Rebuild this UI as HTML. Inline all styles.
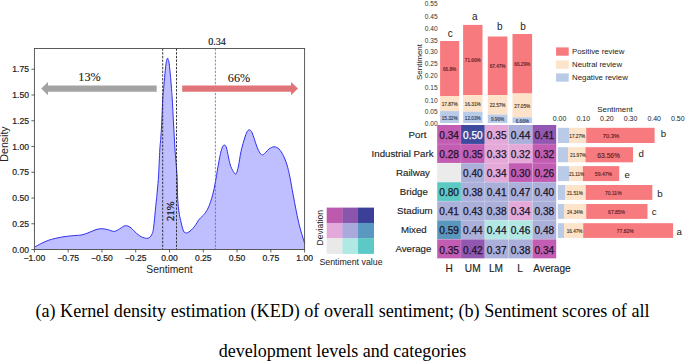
<!DOCTYPE html>
<html><head><meta charset="utf-8"><title>Figure</title>
<style>html,body{margin:0;padding:0;background:#fff;width:685px;height:362px;overflow:hidden}svg{display:block}</style>
</head><body>
<svg width="685" height="362" viewBox="0 0 685 362">
<rect width="685" height="362" fill="#fff"/>
<path d="M34.60,247.00 C35.77,246.38 39.33,244.40 41.60,243.30 C43.87,242.20 45.98,241.20 48.20,240.40 C50.42,239.60 52.68,239.05 54.90,238.50 C57.12,237.95 59.30,237.48 61.50,237.10 C63.70,236.72 65.88,236.47 68.10,236.20 C70.32,235.93 72.48,235.72 74.80,235.50 C77.12,235.28 79.63,235.40 82.00,234.90 C84.37,234.40 86.67,233.38 89.00,232.50 C91.33,231.62 93.85,230.23 96.00,229.60 C98.15,228.97 99.95,228.70 101.90,228.70 C103.85,228.70 105.67,229.15 107.70,229.60 C109.73,230.05 112.15,231.50 114.10,231.40 C116.05,231.30 117.83,229.85 119.40,229.00 C120.97,228.15 122.33,226.85 123.50,226.30 C124.67,225.75 125.48,225.65 126.40,225.70 C127.32,225.75 128.23,226.23 129.00,226.60 C129.77,226.97 130.17,227.20 131.00,227.90 C131.83,228.60 133.02,229.83 134.00,230.80 C134.98,231.77 135.93,232.85 136.90,233.70 C137.87,234.55 138.83,235.28 139.80,235.90 C140.77,236.52 141.53,236.98 142.70,237.40 C143.87,237.82 145.70,238.37 146.80,238.40 C147.90,238.43 148.62,238.00 149.30,237.60 C149.98,237.20 150.40,236.68 150.90,236.00 C151.40,235.32 151.92,234.47 152.30,233.50 C152.68,232.53 152.90,231.92 153.20,230.20 C153.50,228.48 153.80,225.90 154.10,223.20 C154.40,220.50 154.73,216.77 155.00,214.00 C155.27,211.23 155.43,209.22 155.70,206.60 C155.97,203.98 156.32,201.07 156.60,198.30 C156.88,195.53 157.07,193.88 157.40,190.00 C157.73,186.12 158.20,181.67 158.60,175.00 C159.00,168.33 159.43,156.17 159.80,150.00 C160.17,143.83 160.50,142.17 160.80,138.00 C161.10,133.83 161.28,131.33 161.60,125.00 C161.92,118.67 162.40,105.60 162.70,100.00 C163.00,94.40 163.08,95.13 163.40,91.40 C163.72,87.67 164.17,82.20 164.60,77.60 C165.03,73.00 165.53,67.02 166.00,63.80 C166.47,60.58 167.02,58.93 167.40,58.30 C167.78,57.67 168.00,59.08 168.30,60.00 C168.60,60.92 168.82,60.87 169.20,63.80 C169.58,66.73 170.18,73.00 170.60,77.60 C171.02,82.20 171.42,87.67 171.70,91.40 C171.98,95.13 171.98,94.40 172.30,100.00 C172.62,105.60 173.15,116.67 173.60,125.00 C174.05,133.33 174.43,141.67 175.00,150.00 C175.57,158.33 176.55,166.83 177.00,175.00 C177.45,183.17 177.37,192.83 177.70,199.00 C178.03,205.17 178.52,208.45 179.00,212.00 C179.48,215.55 179.85,217.13 180.60,220.30 C181.35,223.47 182.53,228.90 183.50,231.00 C184.47,233.10 185.52,232.73 186.40,232.90 C187.28,233.07 187.98,232.48 188.80,232.00 C189.62,231.52 190.35,230.92 191.30,230.00 C192.25,229.08 193.53,227.73 194.50,226.50 C195.47,225.27 196.35,223.77 197.10,222.60 C197.85,221.43 198.18,220.52 199.00,219.50 C199.82,218.48 201.03,217.50 202.00,216.50 C202.97,215.50 203.68,215.12 204.80,213.50 C205.92,211.88 207.40,209.87 208.70,206.80 C210.00,203.73 211.47,199.30 212.60,195.10 C213.73,190.90 214.67,185.95 215.50,181.60 C216.33,177.25 216.77,173.68 217.60,169.00 C218.43,164.32 219.68,157.17 220.50,153.50 C221.32,149.83 221.85,148.42 222.50,147.00 C223.15,145.58 223.73,144.83 224.40,145.00 C225.07,145.17 225.57,144.83 226.50,148.00 C227.43,151.17 228.87,160.08 230.00,164.00 C231.13,167.92 232.30,169.87 233.30,171.50 C234.30,173.13 235.13,174.72 236.00,173.80 C236.87,172.88 237.67,169.73 238.50,166.00 C239.33,162.27 239.92,156.23 241.00,151.40 C242.08,146.57 243.90,140.40 245.00,137.00 C246.10,133.60 246.80,132.17 247.60,131.00 C248.40,129.83 249.03,129.67 249.80,130.00 C250.57,130.33 251.12,130.50 252.20,133.00 C253.28,135.50 255.12,141.83 256.30,145.00 C257.48,148.17 258.30,150.35 259.30,152.00 C260.30,153.65 261.27,154.80 262.30,154.90 C263.33,155.00 264.38,153.58 265.50,152.60 C266.62,151.62 267.58,149.97 269.00,149.00 C270.42,148.03 272.33,146.80 274.00,146.80 C275.67,146.80 277.43,147.53 279.00,149.00 C280.57,150.47 282.07,152.93 283.40,155.60 C284.73,158.27 285.92,161.43 287.00,165.00 C288.08,168.57 288.90,172.17 289.90,177.00 C290.90,181.83 291.93,188.28 293.00,194.00 C294.07,199.72 295.22,205.97 296.30,211.30 C297.38,216.63 298.43,221.72 299.50,226.00 C300.57,230.28 301.85,234.10 302.70,237.00 C303.55,239.90 304.28,242.33 304.60,243.40 L304.6,249.5 L34.4,249.5 Z" fill="#bfbfff" stroke="none"/>
<path d="M34.60,247.00 C35.77,246.38 39.33,244.40 41.60,243.30 C43.87,242.20 45.98,241.20 48.20,240.40 C50.42,239.60 52.68,239.05 54.90,238.50 C57.12,237.95 59.30,237.48 61.50,237.10 C63.70,236.72 65.88,236.47 68.10,236.20 C70.32,235.93 72.48,235.72 74.80,235.50 C77.12,235.28 79.63,235.40 82.00,234.90 C84.37,234.40 86.67,233.38 89.00,232.50 C91.33,231.62 93.85,230.23 96.00,229.60 C98.15,228.97 99.95,228.70 101.90,228.70 C103.85,228.70 105.67,229.15 107.70,229.60 C109.73,230.05 112.15,231.50 114.10,231.40 C116.05,231.30 117.83,229.85 119.40,229.00 C120.97,228.15 122.33,226.85 123.50,226.30 C124.67,225.75 125.48,225.65 126.40,225.70 C127.32,225.75 128.23,226.23 129.00,226.60 C129.77,226.97 130.17,227.20 131.00,227.90 C131.83,228.60 133.02,229.83 134.00,230.80 C134.98,231.77 135.93,232.85 136.90,233.70 C137.87,234.55 138.83,235.28 139.80,235.90 C140.77,236.52 141.53,236.98 142.70,237.40 C143.87,237.82 145.70,238.37 146.80,238.40 C147.90,238.43 148.62,238.00 149.30,237.60 C149.98,237.20 150.40,236.68 150.90,236.00 C151.40,235.32 151.92,234.47 152.30,233.50 C152.68,232.53 152.90,231.92 153.20,230.20 C153.50,228.48 153.80,225.90 154.10,223.20 C154.40,220.50 154.73,216.77 155.00,214.00 C155.27,211.23 155.43,209.22 155.70,206.60 C155.97,203.98 156.32,201.07 156.60,198.30 C156.88,195.53 157.07,193.88 157.40,190.00 C157.73,186.12 158.20,181.67 158.60,175.00 C159.00,168.33 159.43,156.17 159.80,150.00 C160.17,143.83 160.50,142.17 160.80,138.00 C161.10,133.83 161.28,131.33 161.60,125.00 C161.92,118.67 162.40,105.60 162.70,100.00 C163.00,94.40 163.08,95.13 163.40,91.40 C163.72,87.67 164.17,82.20 164.60,77.60 C165.03,73.00 165.53,67.02 166.00,63.80 C166.47,60.58 167.02,58.93 167.40,58.30 C167.78,57.67 168.00,59.08 168.30,60.00 C168.60,60.92 168.82,60.87 169.20,63.80 C169.58,66.73 170.18,73.00 170.60,77.60 C171.02,82.20 171.42,87.67 171.70,91.40 C171.98,95.13 171.98,94.40 172.30,100.00 C172.62,105.60 173.15,116.67 173.60,125.00 C174.05,133.33 174.43,141.67 175.00,150.00 C175.57,158.33 176.55,166.83 177.00,175.00 C177.45,183.17 177.37,192.83 177.70,199.00 C178.03,205.17 178.52,208.45 179.00,212.00 C179.48,215.55 179.85,217.13 180.60,220.30 C181.35,223.47 182.53,228.90 183.50,231.00 C184.47,233.10 185.52,232.73 186.40,232.90 C187.28,233.07 187.98,232.48 188.80,232.00 C189.62,231.52 190.35,230.92 191.30,230.00 C192.25,229.08 193.53,227.73 194.50,226.50 C195.47,225.27 196.35,223.77 197.10,222.60 C197.85,221.43 198.18,220.52 199.00,219.50 C199.82,218.48 201.03,217.50 202.00,216.50 C202.97,215.50 203.68,215.12 204.80,213.50 C205.92,211.88 207.40,209.87 208.70,206.80 C210.00,203.73 211.47,199.30 212.60,195.10 C213.73,190.90 214.67,185.95 215.50,181.60 C216.33,177.25 216.77,173.68 217.60,169.00 C218.43,164.32 219.68,157.17 220.50,153.50 C221.32,149.83 221.85,148.42 222.50,147.00 C223.15,145.58 223.73,144.83 224.40,145.00 C225.07,145.17 225.57,144.83 226.50,148.00 C227.43,151.17 228.87,160.08 230.00,164.00 C231.13,167.92 232.30,169.87 233.30,171.50 C234.30,173.13 235.13,174.72 236.00,173.80 C236.87,172.88 237.67,169.73 238.50,166.00 C239.33,162.27 239.92,156.23 241.00,151.40 C242.08,146.57 243.90,140.40 245.00,137.00 C246.10,133.60 246.80,132.17 247.60,131.00 C248.40,129.83 249.03,129.67 249.80,130.00 C250.57,130.33 251.12,130.50 252.20,133.00 C253.28,135.50 255.12,141.83 256.30,145.00 C257.48,148.17 258.30,150.35 259.30,152.00 C260.30,153.65 261.27,154.80 262.30,154.90 C263.33,155.00 264.38,153.58 265.50,152.60 C266.62,151.62 267.58,149.97 269.00,149.00 C270.42,148.03 272.33,146.80 274.00,146.80 C275.67,146.80 277.43,147.53 279.00,149.00 C280.57,150.47 282.07,152.93 283.40,155.60 C284.73,158.27 285.92,161.43 287.00,165.00 C288.08,168.57 288.90,172.17 289.90,177.00 C290.90,181.83 291.93,188.28 293.00,194.00 C294.07,199.72 295.22,205.97 296.30,211.30 C297.38,216.63 298.43,221.72 299.50,226.00 C300.57,230.28 301.85,234.10 302.70,237.00 C303.55,239.90 304.28,242.33 304.60,243.40" fill="none" stroke="#3030f0" stroke-width="1.0"/>
<line x1="162.7" y1="48.5" x2="162.7" y2="249.5" stroke="#222" stroke-width="0.9" stroke-dasharray="2.3,1.4"/>
<line x1="176.5" y1="48.5" x2="176.5" y2="249.5" stroke="#222" stroke-width="0.9" stroke-dasharray="2.3,1.4"/>
<line x1="215.4" y1="48.5" x2="215.4" y2="249.5" stroke="#4b4bf5" stroke-width="0.7" stroke-dasharray="2.3,1.4"/>
<rect x="34.4" y="48.5" width="270.20000000000005" height="201.0" fill="none" stroke="#4a4a4a" stroke-width="0.9"/>
<line x1="31.4" y1="249.50" x2="34.4" y2="249.50" stroke="#3a3a3a" stroke-width="0.8"/>
<text x="29" y="252.70" font-family="Liberation Sans" font-size="8.6" text-anchor="end" fill="#222" font-weight="normal" stroke="#222" stroke-width="0.2">0.00</text>
<line x1="31.4" y1="223.75" x2="34.4" y2="223.75" stroke="#3a3a3a" stroke-width="0.8"/>
<text x="29" y="226.95" font-family="Liberation Sans" font-size="8.6" text-anchor="end" fill="#222" font-weight="normal" stroke="#222" stroke-width="0.2">0.25</text>
<line x1="31.4" y1="198.00" x2="34.4" y2="198.00" stroke="#3a3a3a" stroke-width="0.8"/>
<text x="29" y="201.20" font-family="Liberation Sans" font-size="8.6" text-anchor="end" fill="#222" font-weight="normal" stroke="#222" stroke-width="0.2">0.50</text>
<line x1="31.4" y1="172.25" x2="34.4" y2="172.25" stroke="#3a3a3a" stroke-width="0.8"/>
<text x="29" y="175.45" font-family="Liberation Sans" font-size="8.6" text-anchor="end" fill="#222" font-weight="normal" stroke="#222" stroke-width="0.2">0.75</text>
<line x1="31.4" y1="146.50" x2="34.4" y2="146.50" stroke="#3a3a3a" stroke-width="0.8"/>
<text x="29" y="149.70" font-family="Liberation Sans" font-size="8.6" text-anchor="end" fill="#222" font-weight="normal" stroke="#222" stroke-width="0.2">1.00</text>
<line x1="31.4" y1="120.75" x2="34.4" y2="120.75" stroke="#3a3a3a" stroke-width="0.8"/>
<text x="29" y="123.95" font-family="Liberation Sans" font-size="8.6" text-anchor="end" fill="#222" font-weight="normal" stroke="#222" stroke-width="0.2">1.25</text>
<line x1="31.4" y1="95.00" x2="34.4" y2="95.00" stroke="#3a3a3a" stroke-width="0.8"/>
<text x="29" y="98.20" font-family="Liberation Sans" font-size="8.6" text-anchor="end" fill="#222" font-weight="normal" stroke="#222" stroke-width="0.2">1.50</text>
<line x1="31.4" y1="69.25" x2="34.4" y2="69.25" stroke="#3a3a3a" stroke-width="0.8"/>
<text x="29" y="72.45" font-family="Liberation Sans" font-size="8.6" text-anchor="end" fill="#222" font-weight="normal" stroke="#222" stroke-width="0.2">1.75</text>
<line x1="34.40" y1="249.5" x2="34.40" y2="252.5" stroke="#3a3a3a" stroke-width="0.8"/>
<text x="34.40" y="260.6" font-family="Liberation Sans" font-size="8.6" text-anchor="middle" fill="#222" font-weight="normal" stroke="#222" stroke-width="0.2">−1.00</text>
<line x1="68.18" y1="249.5" x2="68.18" y2="252.5" stroke="#3a3a3a" stroke-width="0.8"/>
<text x="68.18" y="260.6" font-family="Liberation Sans" font-size="8.6" text-anchor="middle" fill="#222" font-weight="normal" stroke="#222" stroke-width="0.2">−0.75</text>
<line x1="101.95" y1="249.5" x2="101.95" y2="252.5" stroke="#3a3a3a" stroke-width="0.8"/>
<text x="101.95" y="260.6" font-family="Liberation Sans" font-size="8.6" text-anchor="middle" fill="#222" font-weight="normal" stroke="#222" stroke-width="0.2">−0.50</text>
<line x1="135.73" y1="249.5" x2="135.73" y2="252.5" stroke="#3a3a3a" stroke-width="0.8"/>
<text x="135.73" y="260.6" font-family="Liberation Sans" font-size="8.6" text-anchor="middle" fill="#222" font-weight="normal" stroke="#222" stroke-width="0.2">−0.25</text>
<line x1="169.50" y1="249.5" x2="169.50" y2="252.5" stroke="#3a3a3a" stroke-width="0.8"/>
<text x="169.50" y="260.6" font-family="Liberation Sans" font-size="8.6" text-anchor="middle" fill="#222" font-weight="normal" stroke="#222" stroke-width="0.2">0.00</text>
<line x1="203.28" y1="249.5" x2="203.28" y2="252.5" stroke="#3a3a3a" stroke-width="0.8"/>
<text x="203.28" y="260.6" font-family="Liberation Sans" font-size="8.6" text-anchor="middle" fill="#222" font-weight="normal" stroke="#222" stroke-width="0.2">0.25</text>
<line x1="237.05" y1="249.5" x2="237.05" y2="252.5" stroke="#3a3a3a" stroke-width="0.8"/>
<text x="237.05" y="260.6" font-family="Liberation Sans" font-size="8.6" text-anchor="middle" fill="#222" font-weight="normal" stroke="#222" stroke-width="0.2">0.50</text>
<line x1="270.83" y1="249.5" x2="270.83" y2="252.5" stroke="#3a3a3a" stroke-width="0.8"/>
<text x="270.83" y="260.6" font-family="Liberation Sans" font-size="8.6" text-anchor="middle" fill="#222" font-weight="normal" stroke="#222" stroke-width="0.2">0.75</text>
<line x1="304.60" y1="249.5" x2="304.60" y2="252.5" stroke="#3a3a3a" stroke-width="0.8"/>
<text x="304.60" y="260.6" font-family="Liberation Sans" font-size="8.6" text-anchor="middle" fill="#222" font-weight="normal" stroke="#222" stroke-width="0.2">1.00</text>
<text x="169.5" y="273.3" font-family="Liberation Sans" font-size="10.3" text-anchor="middle" fill="#222" font-weight="normal" >Sentiment</text>
<text x="0" y="0" font-family="Liberation Sans" font-size="10.6" text-anchor="middle" fill="#222" font-weight="normal" transform="translate(8.2,144) rotate(-90)">Density</text>
<polygon points="156.7,85.6 48,85.6 48,82 41.2,88.6 48,95.2 48,91.8 156.7,91.8" fill="#a3a3a3"/>
<polygon points="182.2,85.4 291,85.4 291,82 298,88.6 291,95.2 291,91.8 182.2,91.8" fill="#e07478"/>
<text x="89.5" y="81.3" font-family="Liberation Serif" font-size="12.2" text-anchor="middle" fill="#111" font-weight="normal" stroke="#111" stroke-width="0.08">13%</text>
<text x="239" y="81.9" font-family="Liberation Serif" font-size="12.2" text-anchor="middle" fill="#111" font-weight="normal" stroke="#111" stroke-width="0.08">66%</text>
<text x="217.1" y="45.2" font-family="Liberation Serif" font-size="10.1" text-anchor="middle" fill="#111" font-weight="normal" stroke="#111" stroke-width="0.15">0.34</text>
<text x="0" y="0" font-family="Liberation Serif" font-size="10.6" text-anchor="middle" fill="#111" font-weight="normal" transform="translate(174.0,211.2) rotate(-90)" stroke="#111" stroke-width="0.25">21%</text>
<rect x="326.70" y="207.60" width="15.97" height="15.63" fill="#be5aae"/>
<rect x="342.37" y="207.60" width="15.97" height="15.63" fill="#8c55ac"/>
<rect x="358.03" y="207.60" width="15.97" height="15.63" fill="#3c3f98"/>
<rect x="326.70" y="222.93" width="15.97" height="15.63" fill="#e3a9da"/>
<rect x="342.37" y="222.93" width="15.97" height="15.63" fill="#a9a9dd"/>
<rect x="358.03" y="222.93" width="15.97" height="15.63" fill="#5a98c2"/>
<rect x="326.70" y="238.27" width="15.97" height="15.63" fill="#e9e9e9"/>
<rect x="342.37" y="238.27" width="15.97" height="15.63" fill="#b0e8e4"/>
<rect x="358.03" y="238.27" width="15.97" height="15.63" fill="#5cc9c6"/>
<text x="351" y="264.5" font-family="Liberation Sans" font-size="8.8" text-anchor="middle" fill="#222" font-weight="normal" >Sentiment value</text>
<text x="0" y="0" font-family="Liberation Sans" font-size="8.5" text-anchor="middle" fill="#222" font-weight="normal" transform="translate(322.6,227.7) rotate(-90)">Deviation</text>
<rect x="440.1" y="41.00" width="19.10" height="55.00" fill="#f77a7e"/>
<rect x="440.1" y="96.0" width="19.10" height="15.10" fill="#fde3c9"/>
<rect x="440.1" y="111.1" width="19.10" height="11.90" fill="#bacbe8"/>
<text x="449.65" y="71.00" font-family="Liberation Sans" font-size="4.7" text-anchor="middle" fill="#5a1a22" font-weight="normal" stroke="#5a1a22" stroke-width="0.12">66.8%</text>
<text x="449.65" y="105.90" font-family="Liberation Sans" font-size="4.7" text-anchor="middle" fill="#3e3222" font-weight="normal" stroke="#3e3222" stroke-width="0.12">17.87%</text>
<text x="449.65" y="119.60" font-family="Liberation Sans" font-size="4.7" text-anchor="middle" fill="#2a3656" font-weight="normal" stroke="#2a3656" stroke-width="0.12">15.32%</text>
<rect x="463.1" y="24.90" width="19.40" height="70.20" fill="#f77a7e"/>
<rect x="463.1" y="95.1" width="19.40" height="16.60" fill="#fde3c9"/>
<rect x="463.1" y="111.7" width="19.40" height="11.30" fill="#bacbe8"/>
<text x="472.80" y="62.10" font-family="Liberation Sans" font-size="4.7" text-anchor="middle" fill="#5a1a22" font-weight="normal" stroke="#5a1a22" stroke-width="0.12">71.66%</text>
<text x="472.80" y="105.90" font-family="Liberation Sans" font-size="4.7" text-anchor="middle" fill="#3e3222" font-weight="normal" stroke="#3e3222" stroke-width="0.12">16.31%</text>
<text x="472.80" y="119.60" font-family="Liberation Sans" font-size="4.7" text-anchor="middle" fill="#2a3656" font-weight="normal" stroke="#2a3656" stroke-width="0.12">12.03%</text>
<rect x="487.8" y="36.50" width="19.60" height="58.60" fill="#f77a7e"/>
<rect x="487.8" y="95.1" width="19.60" height="19.50" fill="#fde3c9"/>
<rect x="487.8" y="114.6" width="19.60" height="8.40" fill="#bacbe8"/>
<text x="497.60" y="67.80" font-family="Liberation Sans" font-size="4.7" text-anchor="middle" fill="#5a1a22" font-weight="normal" stroke="#5a1a22" stroke-width="0.12">67.47%</text>
<text x="497.60" y="107.20" font-family="Liberation Sans" font-size="4.7" text-anchor="middle" fill="#3e3222" font-weight="normal" stroke="#3e3222" stroke-width="0.12">22.57%</text>
<text x="497.60" y="121.10" font-family="Liberation Sans" font-size="4.7" text-anchor="middle" fill="#2a3656" font-weight="normal" stroke="#2a3656" stroke-width="0.12">9.96%</text>
<rect x="512.5" y="34.00" width="19.60" height="59.50" fill="#f77a7e"/>
<rect x="512.5" y="93.5" width="19.60" height="23.80" fill="#fde3c9"/>
<rect x="512.5" y="117.3" width="19.60" height="5.70" fill="#bacbe8"/>
<text x="522.30" y="66.20" font-family="Liberation Sans" font-size="4.7" text-anchor="middle" fill="#5a1a22" font-weight="normal" stroke="#5a1a22" stroke-width="0.12">66.29%</text>
<text x="522.30" y="107.60" font-family="Liberation Sans" font-size="4.7" text-anchor="middle" fill="#3e3222" font-weight="normal" stroke="#3e3222" stroke-width="0.12">27.05%</text>
<text x="522.30" y="122.50" font-family="Liberation Sans" font-size="4.7" text-anchor="middle" fill="#2a3656" font-weight="normal" stroke="#2a3656" stroke-width="0.12">6.66%</text>
<text x="447.8" y="36.9" font-family="Liberation Sans" font-size="10.0" text-anchor="start" fill="#1a1a1a" font-weight="normal" >c</text>
<text x="471.9" y="20.0" font-family="Liberation Sans" font-size="10.0" text-anchor="start" fill="#1a1a1a" font-weight="normal" >a</text>
<text x="497.0" y="29.9" font-family="Liberation Sans" font-size="10.0" text-anchor="start" fill="#1a1a1a" font-weight="normal" >b</text>
<text x="520.2" y="29.9" font-family="Liberation Sans" font-size="10.0" text-anchor="start" fill="#1a1a1a" font-weight="normal" >b</text>
<text x="437.7" y="6.40" font-family="Liberation Sans" font-size="6.6" text-anchor="end" fill="#333" font-weight="normal" >0.55</text>
<text x="437.7" y="18.90" font-family="Liberation Sans" font-size="6.6" text-anchor="end" fill="#333" font-weight="normal" >0.45</text>
<text x="437.7" y="30.80" font-family="Liberation Sans" font-size="6.6" text-anchor="end" fill="#333" font-weight="normal" >0.40</text>
<text x="437.7" y="42.80" font-family="Liberation Sans" font-size="6.6" text-anchor="end" fill="#333" font-weight="normal" >0.35</text>
<text x="437.7" y="54.10" font-family="Liberation Sans" font-size="6.6" text-anchor="end" fill="#333" font-weight="normal" >0.30</text>
<text x="437.7" y="66.30" font-family="Liberation Sans" font-size="6.6" text-anchor="end" fill="#333" font-weight="normal" >0.25</text>
<text x="437.7" y="77.60" font-family="Liberation Sans" font-size="6.6" text-anchor="end" fill="#333" font-weight="normal" >0.20</text>
<text x="437.7" y="89.90" font-family="Liberation Sans" font-size="6.6" text-anchor="end" fill="#333" font-weight="normal" >0.15</text>
<text x="437.7" y="102.50" font-family="Liberation Sans" font-size="6.6" text-anchor="end" fill="#333" font-weight="normal" >0.10</text>
<text x="437.7" y="113.80" font-family="Liberation Sans" font-size="6.6" text-anchor="end" fill="#333" font-weight="normal" >0.05</text>
<text x="437.7" y="125.60" font-family="Liberation Sans" font-size="6.6" text-anchor="end" fill="#333" font-weight="normal" >0.00</text>
<text x="0" y="0" font-family="Liberation Sans" font-size="8.0" text-anchor="middle" fill="#222" font-weight="normal" transform="translate(421.5,62) rotate(-90)">Sentiment</text>
<rect x="556.1" y="47.4" width="12.6" height="8.3" fill="#f77a7e"/>
<text x="572" y="53.80" font-family="Liberation Sans" font-size="7.85" text-anchor="start" fill="#222" font-weight="normal" >Positive review</text>
<rect x="556.1" y="60.4" width="12.6" height="8.3" fill="#fde3c9"/>
<text x="572" y="66.80" font-family="Liberation Sans" font-size="7.85" text-anchor="start" fill="#222" font-weight="normal" >Neutral review</text>
<rect x="556.1" y="73.4" width="12.6" height="8.3" fill="#bacbe8"/>
<text x="572" y="79.80" font-family="Liberation Sans" font-size="7.85" text-anchor="start" fill="#222" font-weight="normal" >Negative review</text>
<rect x="437.20" y="125.00" width="23.80" height="19.05" fill="#c35db3"/>
<text x="449.10" y="139.22" font-family="Liberation Sans" font-size="10.1" text-anchor="middle" fill="#1c1428" font-weight="normal" stroke="#1c1428" stroke-width="0.25">0.34</text>
<rect x="461.00" y="125.00" width="23.80" height="19.05" fill="#3d4a9e"/>
<text x="472.90" y="139.22" font-family="Liberation Sans" font-size="10.1" text-anchor="middle" fill="#ffffff" font-weight="normal" stroke="#ffffff" stroke-width="0.25">0.50</text>
<rect x="484.80" y="125.00" width="23.80" height="19.05" fill="#e4a9d8"/>
<text x="496.70" y="139.22" font-family="Liberation Sans" font-size="10.1" text-anchor="middle" fill="#1c1428" font-weight="normal" stroke="#1c1428" stroke-width="0.25">0.35</text>
<rect x="508.60" y="125.00" width="23.80" height="19.05" fill="#aab0da"/>
<text x="520.50" y="139.22" font-family="Liberation Sans" font-size="10.1" text-anchor="middle" fill="#1c1428" font-weight="normal" stroke="#1c1428" stroke-width="0.25">0.44</text>
<rect x="532.40" y="125.00" width="23.80" height="19.05" fill="#9258b1"/>
<text x="544.30" y="139.22" font-family="Liberation Sans" font-size="10.1" text-anchor="middle" fill="#1c1428" font-weight="normal" stroke="#1c1428" stroke-width="0.25">0.41</text>
<text x="408.6" y="138.03" font-family="Liberation Sans" font-size="9.7" text-anchor="start" fill="#1e1e1e" font-weight="normal" stroke="#1e1e1e" stroke-width="0.15">Port</text>
<rect x="437.20" y="144.05" width="23.80" height="19.05" fill="#c35db3"/>
<text x="449.10" y="158.28" font-family="Liberation Sans" font-size="10.1" text-anchor="middle" fill="#1c1428" font-weight="normal" stroke="#1c1428" stroke-width="0.25">0.28</text>
<rect x="461.00" y="144.05" width="23.80" height="19.05" fill="#c35db3"/>
<text x="472.90" y="158.28" font-family="Liberation Sans" font-size="10.1" text-anchor="middle" fill="#1c1428" font-weight="normal" stroke="#1c1428" stroke-width="0.25">0.35</text>
<rect x="484.80" y="144.05" width="23.80" height="19.05" fill="#e4a9d8"/>
<text x="496.70" y="158.28" font-family="Liberation Sans" font-size="10.1" text-anchor="middle" fill="#1c1428" font-weight="normal" stroke="#1c1428" stroke-width="0.25">0.33</text>
<rect x="508.60" y="144.05" width="23.80" height="19.05" fill="#e4a9d8"/>
<text x="520.50" y="158.28" font-family="Liberation Sans" font-size="10.1" text-anchor="middle" fill="#1c1428" font-weight="normal" stroke="#1c1428" stroke-width="0.25">0.32</text>
<rect x="532.40" y="144.05" width="23.80" height="19.05" fill="#c35db3"/>
<text x="544.30" y="158.28" font-family="Liberation Sans" font-size="10.1" text-anchor="middle" fill="#1c1428" font-weight="normal" stroke="#1c1428" stroke-width="0.25">0.32</text>
<text x="371.6" y="157.08" font-family="Liberation Sans" font-size="9.7" text-anchor="start" fill="#1e1e1e" font-weight="normal" stroke="#1e1e1e" stroke-width="0.15">Industrial Park</text>
<rect x="437.20" y="163.10" width="23.80" height="19.05" fill="#ebebeb"/>
<rect x="461.00" y="163.10" width="23.80" height="19.05" fill="#aab0da"/>
<text x="472.90" y="177.32" font-family="Liberation Sans" font-size="10.1" text-anchor="middle" fill="#1c1428" font-weight="normal" stroke="#1c1428" stroke-width="0.25">0.40</text>
<rect x="484.80" y="163.10" width="23.80" height="19.05" fill="#e4a9d8"/>
<text x="496.70" y="177.32" font-family="Liberation Sans" font-size="10.1" text-anchor="middle" fill="#1c1428" font-weight="normal" stroke="#1c1428" stroke-width="0.25">0.34</text>
<rect x="508.60" y="163.10" width="23.80" height="19.05" fill="#c35db3"/>
<text x="520.50" y="177.32" font-family="Liberation Sans" font-size="10.1" text-anchor="middle" fill="#1c1428" font-weight="normal" stroke="#1c1428" stroke-width="0.25">0.30</text>
<rect x="532.40" y="163.10" width="23.80" height="19.05" fill="#c35db3"/>
<text x="544.30" y="177.32" font-family="Liberation Sans" font-size="10.1" text-anchor="middle" fill="#1c1428" font-weight="normal" stroke="#1c1428" stroke-width="0.25">0.26</text>
<text x="396" y="176.12" font-family="Liberation Sans" font-size="9.7" text-anchor="start" fill="#1e1e1e" font-weight="normal" stroke="#1e1e1e" stroke-width="0.15">Railway</text>
<rect x="437.20" y="182.15" width="23.80" height="19.05" fill="#5ccac4"/>
<text x="449.10" y="196.38" font-family="Liberation Sans" font-size="10.1" text-anchor="middle" fill="#1c1428" font-weight="normal" stroke="#1c1428" stroke-width="0.25">0.80</text>
<rect x="461.00" y="182.15" width="23.80" height="19.05" fill="#aab0da"/>
<text x="472.90" y="196.38" font-family="Liberation Sans" font-size="10.1" text-anchor="middle" fill="#1c1428" font-weight="normal" stroke="#1c1428" stroke-width="0.25">0.38</text>
<rect x="484.80" y="182.15" width="23.80" height="19.05" fill="#aab0da"/>
<text x="496.70" y="196.38" font-family="Liberation Sans" font-size="10.1" text-anchor="middle" fill="#1c1428" font-weight="normal" stroke="#1c1428" stroke-width="0.25">0.41</text>
<rect x="508.60" y="182.15" width="23.80" height="19.05" fill="#aab0da"/>
<text x="520.50" y="196.38" font-family="Liberation Sans" font-size="10.1" text-anchor="middle" fill="#1c1428" font-weight="normal" stroke="#1c1428" stroke-width="0.25">0.47</text>
<rect x="532.40" y="182.15" width="23.80" height="19.05" fill="#aab0da"/>
<text x="544.30" y="196.38" font-family="Liberation Sans" font-size="10.1" text-anchor="middle" fill="#1c1428" font-weight="normal" stroke="#1c1428" stroke-width="0.25">0.40</text>
<text x="399.8" y="195.18" font-family="Liberation Sans" font-size="9.7" text-anchor="start" fill="#1e1e1e" font-weight="normal" stroke="#1e1e1e" stroke-width="0.15">Bridge</text>
<rect x="437.20" y="201.20" width="23.80" height="19.05" fill="#aab0da"/>
<text x="449.10" y="215.42" font-family="Liberation Sans" font-size="10.1" text-anchor="middle" fill="#1c1428" font-weight="normal" stroke="#1c1428" stroke-width="0.25">0.41</text>
<rect x="461.00" y="201.20" width="23.80" height="19.05" fill="#aab0da"/>
<text x="472.90" y="215.42" font-family="Liberation Sans" font-size="10.1" text-anchor="middle" fill="#1c1428" font-weight="normal" stroke="#1c1428" stroke-width="0.25">0.43</text>
<rect x="484.80" y="201.20" width="23.80" height="19.05" fill="#aab0da"/>
<text x="496.70" y="215.42" font-family="Liberation Sans" font-size="10.1" text-anchor="middle" fill="#1c1428" font-weight="normal" stroke="#1c1428" stroke-width="0.25">0.38</text>
<rect x="508.60" y="201.20" width="23.80" height="19.05" fill="#e4a9d8"/>
<text x="520.50" y="215.42" font-family="Liberation Sans" font-size="10.1" text-anchor="middle" fill="#1c1428" font-weight="normal" stroke="#1c1428" stroke-width="0.25">0.34</text>
<rect x="532.40" y="201.20" width="23.80" height="19.05" fill="#aab0da"/>
<text x="544.30" y="215.42" font-family="Liberation Sans" font-size="10.1" text-anchor="middle" fill="#1c1428" font-weight="normal" stroke="#1c1428" stroke-width="0.25">0.38</text>
<text x="397.1" y="214.22" font-family="Liberation Sans" font-size="9.7" text-anchor="start" fill="#1e1e1e" font-weight="normal" stroke="#1e1e1e" stroke-width="0.15">Stadium</text>
<rect x="437.20" y="220.25" width="23.80" height="19.05" fill="#5a97bf"/>
<text x="449.10" y="234.47" font-family="Liberation Sans" font-size="10.1" text-anchor="middle" fill="#1c1428" font-weight="normal" stroke="#1c1428" stroke-width="0.25">0.59</text>
<rect x="461.00" y="220.25" width="23.80" height="19.05" fill="#aab0da"/>
<text x="472.90" y="234.47" font-family="Liberation Sans" font-size="10.1" text-anchor="middle" fill="#1c1428" font-weight="normal" stroke="#1c1428" stroke-width="0.25">0.44</text>
<rect x="484.80" y="220.25" width="23.80" height="19.05" fill="#b2e8e4"/>
<text x="496.70" y="234.47" font-family="Liberation Sans" font-size="10.1" text-anchor="middle" fill="#1c1428" font-weight="normal" stroke="#1c1428" stroke-width="0.25">0.44</text>
<rect x="508.60" y="220.25" width="23.80" height="19.05" fill="#b2e8e4"/>
<text x="520.50" y="234.47" font-family="Liberation Sans" font-size="10.1" text-anchor="middle" fill="#1c1428" font-weight="normal" stroke="#1c1428" stroke-width="0.25">0.46</text>
<rect x="532.40" y="220.25" width="23.80" height="19.05" fill="#aab0da"/>
<text x="544.30" y="234.47" font-family="Liberation Sans" font-size="10.1" text-anchor="middle" fill="#1c1428" font-weight="normal" stroke="#1c1428" stroke-width="0.25">0.48</text>
<text x="400.9" y="233.28" font-family="Liberation Sans" font-size="9.7" text-anchor="start" fill="#1e1e1e" font-weight="normal" stroke="#1e1e1e" stroke-width="0.15">Mixed</text>
<rect x="437.20" y="239.30" width="23.80" height="19.05" fill="#c35db3"/>
<text x="449.10" y="253.53" font-family="Liberation Sans" font-size="10.1" text-anchor="middle" fill="#1c1428" font-weight="normal" stroke="#1c1428" stroke-width="0.25">0.35</text>
<rect x="461.00" y="239.30" width="23.80" height="19.05" fill="#9258b1"/>
<text x="472.90" y="253.53" font-family="Liberation Sans" font-size="10.1" text-anchor="middle" fill="#1c1428" font-weight="normal" stroke="#1c1428" stroke-width="0.25">0.42</text>
<rect x="484.80" y="239.30" width="23.80" height="19.05" fill="#aab0da"/>
<text x="496.70" y="253.53" font-family="Liberation Sans" font-size="10.1" text-anchor="middle" fill="#1c1428" font-weight="normal" stroke="#1c1428" stroke-width="0.25">0.37</text>
<rect x="508.60" y="239.30" width="23.80" height="19.05" fill="#aab0da"/>
<text x="520.50" y="253.53" font-family="Liberation Sans" font-size="10.1" text-anchor="middle" fill="#1c1428" font-weight="normal" stroke="#1c1428" stroke-width="0.25">0.38</text>
<rect x="532.40" y="239.30" width="23.80" height="19.05" fill="#c35db3"/>
<text x="544.30" y="253.53" font-family="Liberation Sans" font-size="10.1" text-anchor="middle" fill="#1c1428" font-weight="normal" stroke="#1c1428" stroke-width="0.25">0.34</text>
<text x="395.4" y="252.33" font-family="Liberation Sans" font-size="9.7" text-anchor="start" fill="#1e1e1e" font-weight="normal" stroke="#1e1e1e" stroke-width="0.15">Average</text>
<line x1="461.00" y1="125.0" x2="461.00" y2="258.35" stroke="#ffffff" stroke-opacity="0.25" stroke-width="0.6"/>
<line x1="484.80" y1="125.0" x2="484.80" y2="258.35" stroke="#ffffff" stroke-opacity="0.25" stroke-width="0.6"/>
<line x1="508.60" y1="125.0" x2="508.60" y2="258.35" stroke="#ffffff" stroke-opacity="0.25" stroke-width="0.6"/>
<line x1="532.40" y1="125.0" x2="532.40" y2="258.35" stroke="#ffffff" stroke-opacity="0.25" stroke-width="0.6"/>
<line x1="437.2" y1="144.05" x2="556.20" y2="144.05" stroke="#ffffff" stroke-opacity="0.25" stroke-width="0.6"/>
<line x1="437.2" y1="163.10" x2="556.20" y2="163.10" stroke="#ffffff" stroke-opacity="0.25" stroke-width="0.6"/>
<line x1="437.2" y1="182.15" x2="556.20" y2="182.15" stroke="#ffffff" stroke-opacity="0.25" stroke-width="0.6"/>
<line x1="437.2" y1="201.20" x2="556.20" y2="201.20" stroke="#ffffff" stroke-opacity="0.25" stroke-width="0.6"/>
<line x1="437.2" y1="220.25" x2="556.20" y2="220.25" stroke="#ffffff" stroke-opacity="0.25" stroke-width="0.6"/>
<line x1="437.2" y1="239.30" x2="556.20" y2="239.30" stroke="#ffffff" stroke-opacity="0.25" stroke-width="0.6"/>
<text x="449.2" y="272.2" font-family="Liberation Sans" font-size="10.1" text-anchor="middle" fill="#1e1e1e" font-weight="normal" stroke="#1e1e1e" stroke-width="0.15">H</text>
<text x="472.7" y="272.2" font-family="Liberation Sans" font-size="10.1" text-anchor="middle" fill="#1e1e1e" font-weight="normal" stroke="#1e1e1e" stroke-width="0.15">UM</text>
<text x="496" y="272.2" font-family="Liberation Sans" font-size="10.1" text-anchor="middle" fill="#1e1e1e" font-weight="normal" stroke="#1e1e1e" stroke-width="0.15">LM</text>
<text x="520.1" y="272.2" font-family="Liberation Sans" font-size="10.1" text-anchor="middle" fill="#1e1e1e" font-weight="normal" stroke="#1e1e1e" stroke-width="0.15">L</text>
<text x="552" y="272.2" font-family="Liberation Sans" font-size="10.1" text-anchor="middle" fill="#1e1e1e" font-weight="normal" stroke="#1e1e1e" stroke-width="0.15">Average</text>
<rect x="557.8" y="127.8" width="11.70" height="15.20" fill="#bacbe8"/>
<rect x="569.5" y="127.8" width="16.70" height="15.20" fill="#fde3c9"/>
<rect x="586.2" y="127.8" width="68.40" height="15.20" fill="#f77a7e"/>
<text x="577.30" y="137.69" font-family="Liberation Sans" font-size="4.7" text-anchor="middle" fill="#3e3222" font-weight="normal" stroke="#3e3222" stroke-width="0.12">17.27%</text>
<text x="611.00" y="138.12" font-family="Liberation Sans" font-size="5.9" text-anchor="middle" fill="#5a1a22" font-weight="normal" stroke="#5a1a22" stroke-width="0.12">70.3%</text>
<rect x="557.8" y="147.2" width="10.20" height="15.10" fill="#bacbe8"/>
<rect x="568.0" y="147.2" width="17.50" height="15.10" fill="#fde3c9"/>
<rect x="585.5" y="147.2" width="47.50" height="15.10" fill="#f77a7e"/>
<text x="578.00" y="157.04" font-family="Liberation Sans" font-size="4.7" text-anchor="middle" fill="#3e3222" font-weight="normal" stroke="#3e3222" stroke-width="0.12">21.97%</text>
<text x="608.70" y="157.76" font-family="Liberation Sans" font-size="6.7" text-anchor="middle" fill="#5a1a22" font-weight="normal" stroke="#5a1a22" stroke-width="0.12">63.56%</text>
<rect x="557.8" y="166.1" width="11.20" height="15.00" fill="#bacbe8"/>
<rect x="569.0" y="166.1" width="13.90" height="15.00" fill="#fde3c9"/>
<rect x="582.9" y="166.1" width="36.30" height="15.00" fill="#f77a7e"/>
<text x="576.50" y="175.82" font-family="Liberation Sans" font-size="4.5" text-anchor="middle" fill="#3e3222" font-weight="normal" stroke="#3e3222" stroke-width="0.12">21.11%</text>
<text x="603.50" y="176.04" font-family="Liberation Sans" font-size="5.1" text-anchor="middle" fill="#5a1a22" font-weight="normal" stroke="#5a1a22" stroke-width="0.12">59.47%</text>
<rect x="557.8" y="185.0" width="7.50" height="14.90" fill="#bacbe8"/>
<rect x="565.3" y="185.0" width="20.40" height="14.90" fill="#fde3c9"/>
<rect x="585.7" y="185.0" width="66.60" height="14.90" fill="#f77a7e"/>
<text x="574.90" y="194.74" font-family="Liberation Sans" font-size="4.7" text-anchor="middle" fill="#3e3222" font-weight="normal" stroke="#3e3222" stroke-width="0.12">21.51%</text>
<text x="613.30" y="194.85" font-family="Liberation Sans" font-size="5.0" text-anchor="middle" fill="#5a1a22" font-weight="normal" stroke="#5a1a22" stroke-width="0.12">70.11%</text>
<rect x="557.8" y="204.0" width="6.30" height="14.90" fill="#bacbe8"/>
<rect x="564.1" y="204.0" width="22.10" height="14.90" fill="#fde3c9"/>
<rect x="586.2" y="204.0" width="61.30" height="14.90" fill="#f77a7e"/>
<text x="574.90" y="213.74" font-family="Liberation Sans" font-size="4.7" text-anchor="middle" fill="#3e3222" font-weight="normal" stroke="#3e3222" stroke-width="0.12">24.34%</text>
<text x="616.60" y="213.85" font-family="Liberation Sans" font-size="5.0" text-anchor="middle" fill="#5a1a22" font-weight="normal" stroke="#5a1a22" stroke-width="0.12">67.85%</text>
<rect x="557.8" y="223.2" width="6.30" height="14.70" fill="#bacbe8"/>
<rect x="564.1" y="223.2" width="19.10" height="14.70" fill="#fde3c9"/>
<rect x="583.2" y="223.2" width="89.90" height="14.70" fill="#f77a7e"/>
<text x="574.60" y="232.84" font-family="Liberation Sans" font-size="4.7" text-anchor="middle" fill="#3e3222" font-weight="normal" stroke="#3e3222" stroke-width="0.12">16.47%</text>
<text x="625.30" y="232.95" font-family="Liberation Sans" font-size="5.0" text-anchor="middle" fill="#5a1a22" font-weight="normal" stroke="#5a1a22" stroke-width="0.12">77.82%</text>
<text x="660.8" y="137.4" font-family="Liberation Sans" font-size="9.7" text-anchor="start" fill="#1a1a1a" font-weight="normal" >b</text>
<text x="638.5" y="156.8" font-family="Liberation Sans" font-size="9.7" text-anchor="start" fill="#1a1a1a" font-weight="normal" >d</text>
<text x="624.6" y="178.4" font-family="Liberation Sans" font-size="9.7" text-anchor="start" fill="#1a1a1a" font-weight="normal" >e</text>
<text x="657.2" y="197.1" font-family="Liberation Sans" font-size="9.7" text-anchor="start" fill="#1a1a1a" font-weight="normal" >b</text>
<text x="651.8" y="215.0" font-family="Liberation Sans" font-size="9.7" text-anchor="start" fill="#1a1a1a" font-weight="normal" >c</text>
<text x="676.6" y="234.8" font-family="Liberation Sans" font-size="9.7" text-anchor="start" fill="#1a1a1a" font-weight="normal" >a</text>
<text x="559.60" y="120.9" font-family="Liberation Sans" font-size="7.0" text-anchor="middle" fill="#222" font-weight="normal" >0.00</text>
<text x="583.25" y="120.9" font-family="Liberation Sans" font-size="7.0" text-anchor="middle" fill="#222" font-weight="normal" >0.10</text>
<text x="606.90" y="120.9" font-family="Liberation Sans" font-size="7.0" text-anchor="middle" fill="#222" font-weight="normal" >0.20</text>
<text x="630.55" y="120.9" font-family="Liberation Sans" font-size="7.0" text-anchor="middle" fill="#222" font-weight="normal" >0.30</text>
<text x="654.20" y="120.9" font-family="Liberation Sans" font-size="7.0" text-anchor="middle" fill="#222" font-weight="normal" >0.40</text>
<text x="677.85" y="120.9" font-family="Liberation Sans" font-size="7.0" text-anchor="middle" fill="#222" font-weight="normal" >0.50</text>
<text x="615" y="112.4" font-family="Liberation Sans" font-size="7.9" text-anchor="middle" fill="#222" font-weight="normal" >Sentiment</text>
<text x="342.5" y="316.7" font-family="Liberation Serif" font-size="18.1" text-anchor="middle" fill="#000" font-weight="normal" >(a) Kernel density estimation (KED) of overall sentiment; (b) Sentiment scores of all</text>
<text x="342.5" y="357.3" font-family="Liberation Serif" font-size="18" text-anchor="middle" fill="#000" font-weight="normal" >development levels and categories</text>
</svg>
</body></html>
